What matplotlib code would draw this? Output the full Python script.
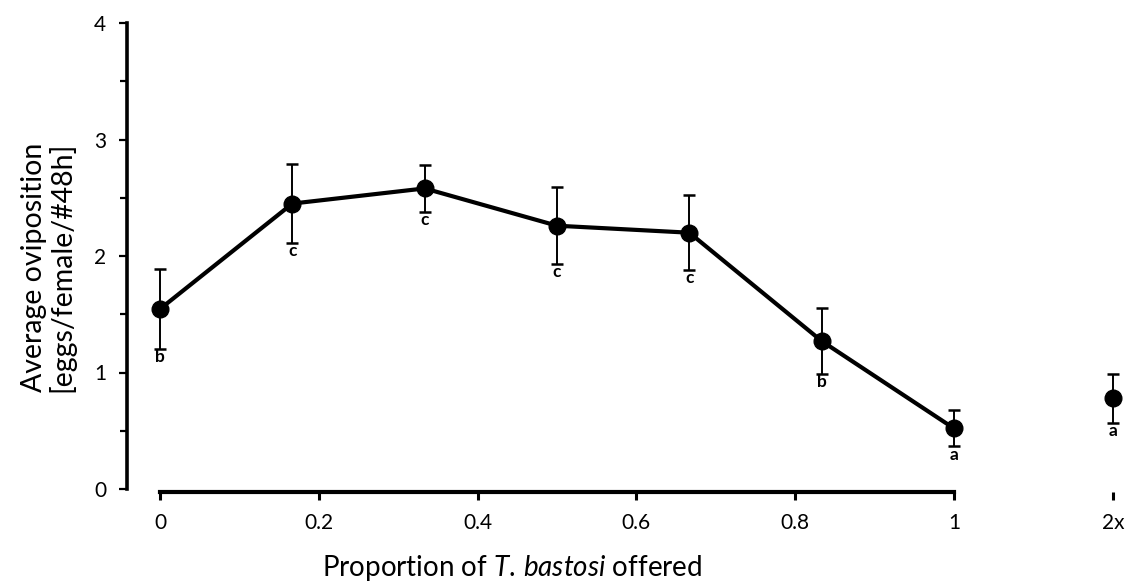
import matplotlib.pyplot as plt
from matplotlib.ticker import MultipleLocator

plt.rcParams['font.family'] = ['Lato', 'DejaVu Sans']
plt.rcParams['mathtext.fontset'] = 'custom'
plt.rcParams['mathtext.rm'] = 'Lato'
plt.rcParams['mathtext.it'] = 'Lato:italic'

# mean oviposition per proportion of T. bastosi offered
prop = [0, 1/6, 1/3, 0.5, 2/3, 5/6, 1]
means = [1.545, 2.45, 2.58, 2.26, 2.20, 1.27, 0.52]
errs = [0.34, 0.34, 0.20, 0.33, 0.32, 0.28, 0.155]
letters = ['b', 'c', 'c', 'c', 'c', 'b', 'a']

# double-density treatment, shown apart from the line
x_2x = 1.2
mean_2x = 0.78
err_2x = 0.21
letter_2x = 'a'

xticks = [0, 0.2, 0.4, 0.6, 0.8, 1, x_2x]
xticklabels = ['0', '0.2', '0.4', '0.6', '0.8', '1', '2x']

fig = plt.figure(figsize=(11.26, 5.88), dpi=100)
ax = fig.add_axes([127/1126, 99/588, 997/1126, 466/588])

ax.errorbar(prop, means, yerr=errs, color='black', lw=3, marker='o', ms=12,
            ecolor='black', elinewidth=1.4, capsize=4, capthick=1.8, clip_on=False)
ax.errorbar([x_2x], [mean_2x], yerr=[err_2x], color='black', lw=0, marker='o', ms=12,
            ecolor='black', elinewidth=1.4, capsize=4, capthick=1.8, clip_on=False)

for x, m, e, s in zip(prop + [x_2x], means + [mean_2x], errs + [err_2x], letters + [letter_2x]):
    ax.annotate(s, (x, m - e), xytext=(0, -9.5), textcoords='offset points',
                ha='center', va='baseline', fontsize=12.5, fontweight='bold')

ax.set_xlim((127 - 160) / 794, (1124 - 160) / 794)
ax.set_ylim(0, 4)

for side in ['top', 'right']:
    ax.spines[side].set_visible(False)
ax.spines['left'].set_linewidth(2.6)
ax.spines['bottom'].set_linewidth(3)
ax.spines['bottom'].set_bounds(0, 1)
ax.spines['bottom'].set_position(('outward', 2))

ax.set_yticks([0, 1, 2, 3, 4])
ax.yaxis.set_minor_locator(MultipleLocator(0.5))
ax.tick_params(axis='y', which='major', length=6, width=1.6, labelsize=15, pad=9)
ax.tick_params(axis='y', which='minor', length=5, width=1.6)
ax.set_xticks(xticks)
ax.set_xticklabels(xticklabels)
ax.tick_params(axis='x', length=6, width=2.2, labelsize=15, pad=9)

ax.set_ylabel('Average oviposition\n[eggs/female/#48h]', fontsize=20.5, linespacing=1.0,
              va='center')
ax.yaxis.set_label_coords(-0.079, 0.476)
ax.set_xlabel(r'Proportion of $\mathit{T.\,bastosi}$ offered', fontsize=20)
ax.xaxis.set_label_coords(0.386, -0.17)
ax.xaxis.label.set_va('center')

fig.savefig('out.png', dpi=100)
